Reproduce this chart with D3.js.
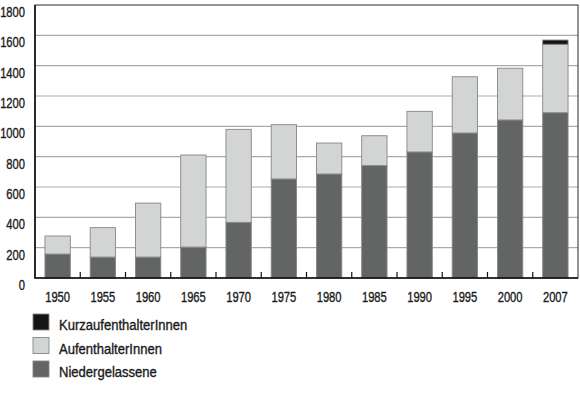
<!DOCTYPE html>
<html>
<head>
<meta charset="utf-8">
<script src="https://cdn.jsdelivr.net/npm/d3@7"></script>
<style>
  body { margin: 0; background: #fff; }
  svg text { font-family: "Liberation Sans", Arial, sans-serif; fill: #1a1a1a; stroke: #1a1a1a; stroke-width: 0.35px; }
</style>
</head>
<body>
<div id="chart"></div>
<script>
// data (in thousands)
const years = ["1950", "1955", "1960", "1965", "1970", "1975", "1980", "1985", "1990", "1995", "2000", "2007"];
const niedergelassene = [158, 138, 138, 204, 367, 653, 686, 741, 831, 956, 1042, 1090];
const aufenthalter = [119, 194, 356, 607, 613, 358, 204, 197, 268, 371, 341, 451];
const kurzaufenthalter = [0, 0, 0, 0, 0, 0, 0, 0, 0, 0, 0, 28];
const yTicks = [0, 200, 400, 600, 800, 1000, 1200, 1400, 1600, 1800];

const seriesNames = ["Niedergelassene", "AufenthalterInnen", "KurzaufenthalterInnen"];
const colors = { "Niedergelassene": "#636564", "AufenthalterInnen": "#d3d5d4", "KurzaufenthalterInnen": "#141414" };
const legendOrder = ["KurzaufenthalterInnen", "AufenthalterInnen", "Niedergelassene"];

const width = 580, height = 406;
const margin = {top: 5, right: 2, bottom: 128, left: 35};
const innerW = width - margin.left - margin.right;
const innerH = height - margin.top - margin.bottom;

// the original uses a condensed face, so squeeze the text horizontally
function place(sel, fx, fy, sx) {
    sel.attr("transform", (d, i) => "translate(" + fx(d, i) + "," + fy(d, i) + ") scale(" + sx + ",1)");
}

let svg = d3.select("#chart").append("svg")
    .attr("width", width)
    .attr("height", height);

let g = svg.append("g").attr("transform", "translate(" + margin.left + "," + margin.top + ")");

let x = d3.scaleBand().domain(years).range([0, innerW]).paddingInner(0.44).paddingOuter(0.22);
let y = d3.scaleLinear().domain([0, 1800]).range([innerH, 0]);

// table for the stack
let table = years.map((yr, i) => ({
    year: yr,
    "Niedergelassene": niedergelassene[i],
    "AufenthalterInnen": aufenthalter[i],
    "KurzaufenthalterInnen": kurzaufenthalter[i]
}));
let stacked = d3.stack().keys(seriesNames)(table);

// gridlines
g.append("g")
    .selectAll("line")
    .data(yTicks.filter(d => d > 0 && d < 1800))
    .enter()
    .append("line")
    .attr("x1", 0)
    .attr("x2", innerW)
    .attr("y1", d => y(d))
    .attr("y2", d => y(d))
    .attr("stroke", "#a9aba9")
    .attr("stroke-width", 1.2);

// bars
g.selectAll("g.layer")
    .data(stacked)
    .enter()
    .append("g")
    .attr("class", "layer")
    .attr("fill", d => colors[d.key])
    .selectAll("rect")
    .data(d => d.filter(p => p[1] - p[0] > 0))
    .enter()
    .append("rect")
    .attr("x", d => x(d.data.year))
    .attr("width", x.bandwidth())
    .attr("y", d => y(d[1]))
    .attr("height", d => y(d[0]) - y(d[1]))
    .attr("stroke", "#858786")
    .attr("stroke-width", 0.9);

// frame
g.append("rect")
    .attr("x", 0).attr("y", 0)
    .attr("width", innerW).attr("height", innerH)
    .attr("fill", "none")
    .attr("stroke", "#2a2a2a")
    .attr("stroke-width", 1);
g.append("path")
    .attr("d", "M0,0V" + innerH + "H" + innerW)
    .attr("fill", "none")
    .attr("stroke", "#111")
    .attr("stroke-width", 1.6);

// small ticks between the bars
let step = x.step();
g.append("g")
    .selectAll("line")
    .data(years.slice(1))
    .enter()
    .append("line")
    .attr("x1", d => x(d) - (step - x.bandwidth()) / 2)
    .attr("x2", d => x(d) - (step - x.bandwidth()) / 2)
    .attr("y1", innerH)
    .attr("y2", innerH - 6)
    .attr("stroke", "#111")
    .attr("stroke-width", 1.2);

// y labels (sit just under their gridline)
g.append("g")
    .selectAll("text")
    .data(yTicks)
    .enter()
    .append("text")
    .attr("text-anchor", "end")
    .attr("font-size", 14)
    .text(d => d)
    .call(place, () => -10, d => y(d) + 12, 0.8);

// x labels
g.append("g")
    .selectAll("text")
    .data(years)
    .enter()
    .append("text")
    .attr("text-anchor", "middle")
    .attr("font-size", 14)
    .text(d => d)
    .call(place, d => x(d) + x.bandwidth() / 2, () => innerH + 24, 0.8);

// legend
let legend = svg.append("g").attr("transform", "translate(33,314)");
let item = legend.selectAll("g")
    .data(legendOrder)
    .enter()
    .append("g")
    .attr("transform", (d, i) => "translate(0," + (i * 23.5) + ")");
item.append("rect")
    .attr("width", 16)
    .attr("height", 16)
    .attr("fill", d => colors[d])
    .attr("stroke", "#858786")
    .attr("stroke-width", 0.9);
item.append("text")
    .attr("font-size", 14.5)
    .text(d => d)
    .call(place, () => 26, () => 16, 0.9);
</script>
</body>
</html>
